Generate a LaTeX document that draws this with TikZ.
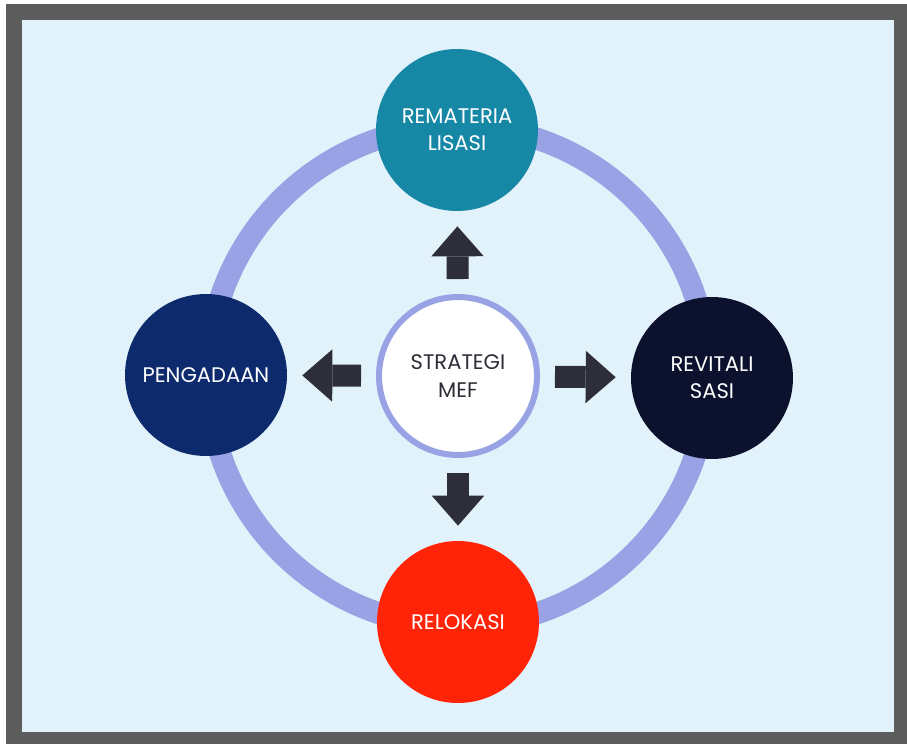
\documentclass[tikz,border=0pt]{standalone}
\usepackage{fontspec}
\setmainfont{Poppins}
\usetikzlibrary{arrows.meta}

\definecolor{frame}{RGB}{92,92,92}
\definecolor{paper}{RGB}{226,242,251}
\definecolor{ring}{RGB}{152,162,228}
\definecolor{teal}{RGB}{22,136,166}
\definecolor{navy}{RGB}{12,42,108}
\definecolor{night}{RGB}{12,18,46}
\definecolor{fire}{RGB}{255,36,8}
\definecolor{pointer}{RGB}{46,46,56}

\begin{document}
\begin{tikzpicture}[
    x=0.02cm, y=-0.02cm,
    stage/.style={
      circle,
      minimum size=3.24cm,
      inner sep=0pt,
      text=white,
      align=center,
      font=\fontsize{12}{15.5}\selectfont
    },
    core/.style={
      circle,
      draw=ring,
      line width=0.12cm,
      fill=white,
      minimum size=3.16cm,
      inner sep=0pt,
      text=pointer,
      align=center,
      font=\fontsize{12}{15.5}\selectfont
    },
    push/.style={
      draw=pointer,
      line width=0.44cm,
      -{Triangle[width=1.05cm,length=0.6cm,line width=0pt,fill=pointer]},
      shorten <=0.3cm,
      shorten >=0.3cm
    }
  ]
    \useasboundingbox (0,0) rectangle (907,744);
    \fill[frame] (6,4) rectangle (907,744);
    \fill[paper] (22,20) rectangle (894,732);

    \draw[ring, line width=0.44cm] (458,376) circle[radius=250];

    \node[core] (core) at (458,376) {STRATEGI\\MEF};
    \node[stage, fill=teal] (rematerial) at (457,130) {REMATERIA\\LISASI};
    \node[stage, fill=night] (revital) at (712,378) {REVITALI\\SASI};
    \node[stage, fill=navy] (pengadaan) at (206,375) {PENGADAAN};
    \node[stage, fill=fire] (relokasi) at (458,622) {RELOKASI};

    \path[push]
      (core) edge (rematerial)
      (core) edge (revital)
      (core) edge (pengadaan)
      (core) edge (relokasi);
  \end{tikzpicture}
\end{document}
